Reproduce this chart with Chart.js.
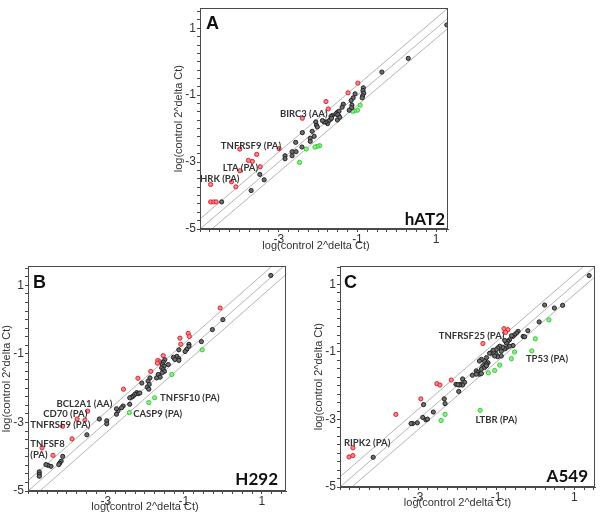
<!DOCTYPE html>
<html><head><meta charset="utf-8">
<script src="https://cdn.jsdelivr.net/npm/chart.js@4/dist/chart.umd.min.js"></script>
<style>
html,body{margin:0;padding:0;background:#fff;width:600px;height:512px;overflow:hidden;}
canvas{position:absolute;}
</style></head><body>
<canvas id="cA" width="302" height="252" style="left:150px;top:0px"></canvas>
<canvas id="cB" width="290" height="254" style="left:0px;top:258px"></canvas>
<canvas id="cC" width="300" height="254" style="left:300px;top:258px"></canvas>
<script>
// ---------- data (log(control 2^deltaCt) vs log(treated 2^deltaCt)) ----------
const axisTitle = 'log(control 2^delta Ct)';
const xTickLabels = [-3, -1, 1];
const yTickLabels = [-5, -3, -1, 1];
const foldChange = 2;   // reference lines at y = x and y = x ± log10(2)

// Panel A: hAT2
const hat2Black = [[1.27,1.10],[0.29,0.10],[-0.38,-0.31],[-0.85,-0.78],[-0.86,-0.86],[-0.84,-0.94],[-0.87,-1.02],[-0.88,-1.08],[-1.06,-0.96],[-1.11,-1.08],[-1.16,-1.16],[-1.36,-1.27],[-1.14,-1.30],[-1.15,-1.38],[-1.21,-1.45],[-1.39,-1.36],[-1.51,-1.51],[-1.47,-1.48],[-1.55,-1.56],[-1.48,-1.61],[-1.64,-1.61],[-1.68,-1.71],[-1.72,-1.76],[-1.76,-1.85],[-1.80,-1.80],[-1.85,-1.80],[-1.89,-1.76],[-2.06,-1.80],[-2.04,-1.90],[-2.02,-1.95],[-1.51,-1.74],[-1.50,-1.58],[-1.45,-1.66],[-1.67,-1.63],[-1.66,-1.69],[-2.40,-2.12],[-2.15,-2.08],[-2.10,-2.23],[-2.20,-2.29],[-2.20,-2.38],[-2.57,-2.41],[-2.41,-2.55],[-2.66,-2.69],[-2.66,-2.81],[-2.56,-2.69],[-2.84,-2.81],[-2.84,-2.90],[-3.48,-3.37],[-3.37,-3.53],[-3.70,-3.85],[-4.45,-4.19]];
const hat2Red = [[-0.99,-0.64],[-1.24,-0.93],[-1.80,-1.19],[-1.74,-1.41],[-2.40,-1.69],[-2.99,-2.60],[-3.56,-2.77],[-3.99,-2.61],[-3.77,-2.95],[-3.67,-2.98],[-3.47,-3.14],[-3.99,-3.26],[-4.20,-3.59],[-4.09,-3.74],[-4.73,-3.67],[-4.73,-4.19],[-4.65,-4.19],[-4.59,-4.19]];
const hat2Green = [[-0.93,-1.30],[-1.00,-1.45],[-1.08,-1.47],[-1.13,-1.48],[-1.96,-2.51],[-2.02,-2.53],[-2.08,-2.55],[-2.30,-2.61],[-2.47,-3.01]];
const hat2Notes = [['BIRC3 (AA)',-2.97,-1.56],['TNFRSF9 (PA)',-4.47,-2.51],['LTA (PA)',-4.42,-3.16],['HRK (PA)',-5.0,-3.51]];

// Panel B: H292
const h292Black = [[1.23,1.29],[0.00,0.00],[-0.27,-0.29],[-0.55,-0.64],[-0.87,-0.72],[-0.87,-0.78],[-0.93,-0.87],[-0.97,-0.93],[-1.13,-0.88],[-1.18,-1.07],[-1.13,-1.14],[-1.13,-1.19],[-1.27,-1.10],[-1.23,-1.16],[-1.49,-1.17],[-1.53,-1.24],[-1.55,-1.31],[-1.51,-1.36],[-1.57,-1.41],[-1.53,-1.46],[-1.50,-1.51],[-1.56,-1.55],[-1.40,-1.31],[-1.66,-1.60],[-1.61,-1.68],[-1.70,-1.70],[-1.87,-1.70],[-1.92,-1.79],[-1.89,-1.89],[-1.94,-1.97],[-1.90,-2.03],[-2.08,-1.85],[-2.21,-2.13],[-2.17,-2.16],[-2.13,-2.14],[-2.26,-2.18],[-2.30,-2.23],[-2.34,-2.26],[-2.39,-2.28],[-2.39,-2.47],[-2.56,-2.52],[-2.60,-2.57],[-2.69,-2.66],[-2.73,-2.76],[-2.73,-2.60],[-2.98,-2.95],[-2.98,-3.04],[-3.17,-2.90],[-3.49,-3.36],[-4.11,-3.99],[-4.15,-4.13],[-4.19,-4.19],[-4.21,-4.23],[-4.41,-4.28],[-4.49,-4.25],[-4.54,-4.23],[-4.71,-4.44],[-4.71,-4.51],[-4.71,-4.57]];
const h292Red = [[-0.07,0.34],[-0.89,-0.40],[-0.86,-0.49],[-1.10,-0.54],[-1.08,-0.72],[-1.53,-1.05],[-1.67,-1.19],[-1.61,-1.23],[-1.57,-1.26],[-1.68,-1.27],[-1.85,-1.51],[-2.18,-1.71],[-2.55,-2.03],[-3.47,-2.67],[-3.74,-2.90],[-3.54,-2.93],[-4.11,-3.11],[-3.87,-3.48],[-4.36,-3.96],[-4.64,-3.74]];
const h292Green = [[-0.53,-0.88],[-1.31,-1.60],[-1.75,-2.28],[-1.90,-2.42],[-2.40,-2.71]];
const h292Notes = [['BCL2A1 (AA)',-4.27,-2.45],['CD70 (PA)',-4.61,-2.76],['TNFRSF9 (PA)',-4.94,-3.07],['TNFSF8',-4.94,-3.62],['(PA)',-4.94,-3.94],['TNFSF10 (PA)',-1.61,-2.29],['CASP9 (PA)',-2.30,-2.76]];

// Panel C: A549
const a549Black = [[1.38,1.26],[0.24,0.39],[0.49,0.30],[0.70,0.38],[0.10,-0.11],[-0.19,-0.37],[-0.44,-0.39],[-0.48,-0.44],[-0.53,-0.49],[-0.57,-0.54],[-0.61,-0.52],[-0.31,-0.54],[-0.27,-0.55],[-0.66,-0.64],[-0.70,-0.68],[-0.74,-0.73],[-0.78,-0.66],[-0.57,-0.81],[-0.66,-0.83],[-0.74,-0.88],[-0.78,-0.91],[-0.83,-0.86],[-0.91,-0.83],[-0.96,-0.88],[-1.00,-0.93],[-0.87,-0.98],[-1.08,-0.95],[-1.13,-1.03],[-1.17,-1.04],[-1.00,-1.07],[-0.96,-1.14],[-0.87,-1.12],[-1.04,-1.12],[-1.25,-1.17],[-1.30,-1.27],[-1.21,-1.32],[-1.25,-1.36],[-1.34,-1.41],[-1.38,-1.51],[-1.30,-1.46],[-1.25,-1.41],[-1.38,-1.22],[-1.43,-1.27],[-1.51,-1.56],[-1.47,-1.61],[-1.43,-1.66],[-1.51,-1.66],[-1.38,-1.64],[-1.61,-1.69],[-1.86,-1.80],[-1.81,-1.90],[-1.90,-1.95],[-1.86,-1.98],[-1.94,-1.98],[-2.03,-1.96],[-1.98,-1.97],[-1.96,-2.17],[-2.33,-2.39],[-2.31,-2.53],[-2.61,-2.78],[-2.86,-2.56],[-2.88,-2.94],[-2.80,-3.01],[-2.76,-2.99],[-3.02,-3.10],[-3.14,-3.12],[-3.18,-3.12],[-4.15,-4.12]];
const a549Red = [[-0.80,-0.31],[-0.70,-0.34],[-0.76,-0.42],[-1.34,-0.75],[-2.15,-1.83],[-2.52,-1.94],[-2.44,-1.98],[-2.93,-2.39],[-3.57,-2.85],[-4.67,-3.84],[-4.77,-4.11],[-4.67,-4.07]];
const a549Green = [[0.35,-0.05],[0.00,-0.61],[-0.09,-0.97],[-0.53,-1.00],[-0.61,-1.20],[-0.91,-1.39],[-1.04,-1.55],[-1.20,-1.62],[-1.41,-2.73],[-2.31,-2.85],[-2.41,-3.03]];
const a549Notes = [['TNFRSF25 (PA)',-2.47,-0.54],['TP53 (PA)',-0.24,-1.20],['LTBR (PA)',-1.53,-3.00],['RIPK2 (PA)',-4.90,-3.70]];

// ---------- rendering ----------
Chart.defaults.font.family = '"Liberation Sans", Arial, sans-serif';
Chart.defaults.font.size = 12;
Chart.defaults.color = '#333';

const pts = a => a.map(p => ({x: p[0], y: p[1]}));
const off = Math.log10(foldChange);
function diagLine(o) { return [{x: -10, y: -10 + o}, {x: 10, y: 10 + o}]; }

function lineDs(o) {
  return {data: diagLine(o), showLine: true, pointRadius: 0, borderColor: '#b4b4b4', borderWidth: 1, clip: 0, order: 10};
}
function ptDs(arr, stroke, fill) {
  return {data: pts(arr), pointRadius: 2.1, pointBorderWidth: 1, borderColor: stroke, backgroundColor: fill, pointHoverRadius: 2.1, order: 1};
}

function makePanel(p) {
  const plugin = {
    id: 'deco' + p.letter,
    afterDraw(chart) {
      const {ctx, chartArea: a, scales: {x, y}} = chart;
      ctx.save();
      ctx.strokeStyle = '#4a4a4a'; ctx.lineWidth = 1;
      ctx.strokeRect(Math.round(a.left) + 0.5, Math.round(a.top) + 0.5, Math.round(a.right - a.left) - 1, Math.round(a.bottom - a.top) - 1);
      // panel letter
      ctx.fillStyle = '#111'; ctx.font = 'bold 18px "Liberation Sans", Arial, sans-serif';
      ctx.textAlign = 'left'; ctx.textBaseline = 'top';
      ctx.fillText(p.letter, a.left + p.letterDx, a.top + p.letterDy);
      // cell line name
      ctx.font = 'bold 17px Lato, sans-serif'; ctx.textAlign = 'right'; ctx.textBaseline = 'alphabetic';
      ctx.fillText(p.cell, a.right - p.cellDx, a.bottom - p.cellDy);
      // gene annotations
      ctx.font = 'bold 9.5px Lato, sans-serif'; ctx.fillStyle = '#333';
      ctx.textAlign = 'left'; ctx.textBaseline = 'middle';
      p.notes.forEach(n => ctx.fillText(n[0], x.getPixelForValue(n[1]), y.getPixelForValue(n[2])));
      // axis titles
      ctx.font = '11px "Liberation Sans", Arial, sans-serif'; ctx.fillStyle = '#333';
      ctx.textAlign = 'center'; ctx.textBaseline = 'middle';
      ctx.fillText(axisTitle, (a.left + a.right) / 2 + p.xtDx, a.bottom + p.xtDy);
      ctx.translate(a.left - 21, (a.top + a.bottom) / 2);
      ctx.rotate(-Math.PI / 2);
      ctx.fillText(axisTitle, 0, 0);
      ctx.restore();
    }
  };
  const lab = list => v => { const r = Math.round(v); return (Math.abs(v - r) < 1e-6 && list.includes(r)) ? String(r) : ''; };
  return new Chart(document.getElementById(p.id), {
    type: 'scatter',
    data: {datasets: [
      lineDs(0), lineDs(off), lineDs(-off),
      ptDs(p.black, '#222', '#6e6e6e'),
      ptDs(p.red, '#e0202a', '#f28a8a'),
      ptDs(p.green, '#2ecc2e', '#8fee8f')
    ]},
    options: {
      responsive: false, animation: false, events: [],
      layout: {padding: {top: p.padTop, right: p.padRight, bottom: 0, left: 0}},
      plugins: {legend: {display: false}, tooltip: {enabled: false}},
      scales: {
        x: {type: 'linear', min: -5, max: p.xmax,
            border: {display: true, color: '#4a4a4a'},
            grid: {display: true, drawOnChartArea: false, drawTicks: true, tickLength: 3, color: '#4a4a4a'},
            ticks: {stepSize: 0.25, autoSkip: false, maxRotation: 0, includeBounds: false, padding: 0, callback: lab(xTickLabels)},
            afterFit(s) { s.height = p.xh; }},
        y: {type: 'linear', min: -5, max: p.ymax,
            border: {display: true, color: '#4a4a4a'},
            grid: {display: true, drawOnChartArea: false, drawTicks: true, tickLength: 3, color: '#4a4a4a'},
            ticks: {stepSize: 0.25, autoSkip: false, includeBounds: false, padding: 1, callback: lab(yTickLabels)},
            afterFit(s) { s.width = p.yw; }}
      }
    },
    plugins: [plugin]
  });
}

makePanel({id: 'cA', letter: 'A', cell: 'hAT2', black: hat2Black, red: hat2Red, green: hat2Green, notes: hat2Notes,
  xmax: 1.3, ymax: 1.6, yw: 50, xh: 23, padTop: 1, padRight: 4,
  letterDx: 6, letterDy: 7, cellDx: 3, cellDy: 4, xtDx: -8, xtDy: 17});
makePanel({id: 'cB', letter: 'B', cell: 'H292', black: h292Black, red: h292Red, green: h292Green, notes: h292Notes,
  xmax: 1.62, ymax: 1.56, yw: 28, xh: 21, padTop: 6, padRight: 4,
  letterDx: 5, letterDy: 8, cellDx: 8, cellDy: 6, xtDx: -12, xtDy: 16});
makePanel({id: 'cC', letter: 'C', cell: 'A549', black: a549Black, red: a549Red, green: a549Green, notes: a549Notes,
  xmax: 1.53, ymax: 1.54, yw: 40, xh: 25, padTop: 6, padRight: 5,
  letterDx: 4, letterDy: 8, cellDx: 7, cellDy: 5, xtDx: -10, xtDy: 16});
</script>
</body></html>
